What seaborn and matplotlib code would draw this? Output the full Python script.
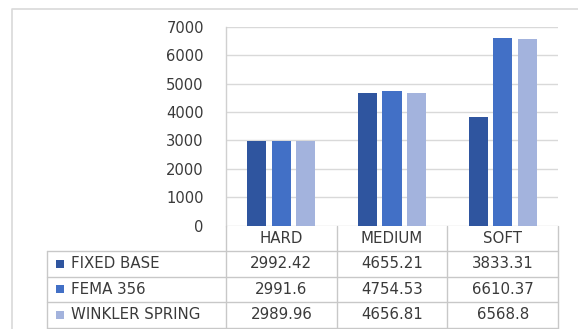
import numpy as np
import pandas as pd
import matplotlib
matplotlib.use("Agg")
import matplotlib.pyplot as plt
import matplotlib.transforms as mtransforms
from matplotlib.lines import Line2D
from matplotlib.patches import Rectangle
import seaborn as sns

# Soil categories and base-shear results for each support model
categories = ["HARD", "MEDIUM", "SOFT"]
series_names = ["FIXED BASE", "FEMA 356", "WINKLER SPRING"]
fixed_base = [2992.42, 4655.21, 3833.31]
fema_356 = [2991.6, 4754.53, 6610.37]
winkler_spring = [2989.96, 4656.81, 6568.8]
series_values = [fixed_base, fema_356, winkler_spring]
y_ticks = [0, 1000, 2000, 3000, 4000, 5000, 6000, 7000]
colors = ["#2F559F", "#4270C6", "#A3B3DD"]

df = pd.DataFrame(
    [(c, s, v) for s, vals in zip(series_names, series_values)
     for c, v in zip(categories, vals)],
    columns=["soil", "model", "value"],
)

sns.set_style("white")
plt.rcParams["font.family"] = ["DejaVu Sans"]
text_color = "#3A3A3A"
line_color = "#C8C8C8"
fs = 10.8
tick_fs = 10.6

W, H = 578, 329
fig = plt.figure(figsize=(W / 100, H / 100), dpi=100)


def fx(px):
    return px / W


def fy(py):
    return 1 - py / H


ax_left, ax_right, ax_top, ax_bottom = 226, 558, 27, 225.5
ax = fig.add_axes([fx(ax_left), fy(ax_bottom), fx(ax_right - ax_left),
                   (ax_bottom - ax_top) / H])

sns.barplot(data=df, x="soil", y="value", hue="model", order=categories,
            hue_order=series_names, palette=colors, width=0.664, gap=0.22,
            saturation=1, legend=False, linewidth=0, ax=ax)

ax.set_xlim(-0.5, len(categories) - 0.5)
ax.set_ylim(y_ticks[0], y_ticks[-1])
ax.set_yticks(y_ticks)
ax.set_yticklabels([str(t) for t in y_ticks])
ax.tick_params(axis="y", length=0, pad=16, labelsize=tick_fs,
               labelcolor=text_color)
ax.set_xticks([])
ax.set_xlabel("")
ax.set_ylabel("")
ax.grid(axis="y", color="#D9D9D9", linewidth=1)
ax.set_axisbelow(True)
for side in ["top", "right", "bottom"]:
    ax.spines[side].set_visible(False)
ax.spines["left"].set_color("#D0D0D0")
ax.spines["left"].set_linewidth(1)

# Data table below the plot
blend = mtransforms.blended_transform_factory(ax.transData, fig.transFigure)
col_edges = [i - 0.5 for i in range(len(categories) + 1)]
table_left = 47
header_top, header_bottom = 225.5, 251
row_h = 25.5
row_edges = [header_bottom + i * row_h for i in range(len(series_names) + 1)]
table_bottom = row_edges[-1]

# vertical lines of the value columns
for xe in col_edges:
    fig.add_artist(Line2D([xe, xe], [fy(header_top), fy(table_bottom)],
                          transform=blend, color=line_color, lw=1))
# left edge of the label column
fig.add_artist(Line2D([fx(table_left)] * 2, [fy(header_bottom), fy(table_bottom)],
                      transform=fig.transFigure, color=line_color, lw=1))
# horizontal rules
for ye in row_edges:
    fig.add_artist(Line2D([fx(table_left), fx(ax_right)], [fy(ye)] * 2,
                          transform=fig.transFigure, color=line_color, lw=1))

# header row
for i, c in enumerate(categories):
    fig.text(i, fy((header_top + header_bottom) / 2), c, transform=blend,
             ha="center", va="center", fontsize=fs, color=text_color)

# body rows
for r, (name, vals, col) in enumerate(zip(series_names, series_values, colors)):
    yc = (row_edges[r] + row_edges[r + 1]) / 2
    fig.add_artist(Rectangle((fx(56), fy(yc + 4)), fx(8), 8 / H,
                             transform=fig.transFigure, facecolor=col,
                             edgecolor="none"))
    fig.text(fx(71), fy(yc), name, ha="left", va="center", fontsize=fs,
             color=text_color)
    for i, v in enumerate(vals):
        fig.text(i, fy(yc), str(v), transform=blend, ha="center", va="center",
                 fontsize=fs, color=text_color)

# chart area frame
fig.add_artist(Line2D([fx(12), fx(12), fx(W)], [0, fy(9), fy(9)],
                      transform=fig.transFigure, color="#D9D9D9", lw=1.2))

fig.savefig("out.png", dpi=100)
